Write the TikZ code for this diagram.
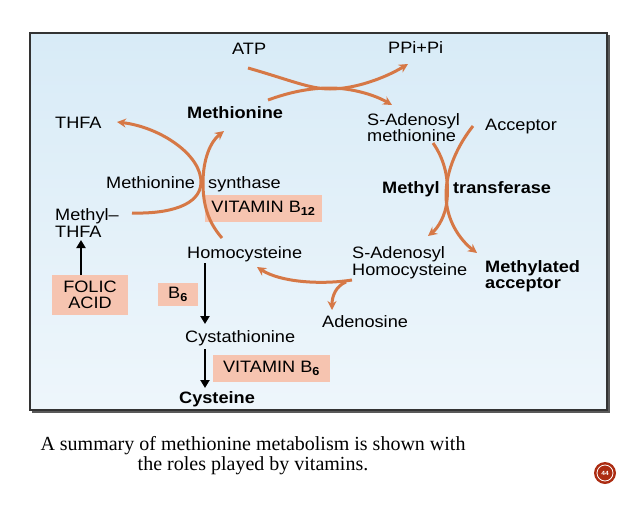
\documentclass[tikz,border=0pt]{standalone}
\usepackage{fontspec}
\setmainfont{Liberation Sans}[FakeStretch=1.1]
\newfontfamily\capfont{Liberation Serif}
\usetikzlibrary{arrows.meta}
\definecolor{arr}{RGB}{214,120,70}
\definecolor{vit}{RGB}{246,196,176}
\definecolor{bgA}{RGB}{216,235,247}
\definecolor{bgB}{RGB}{238,246,251}
\definecolor{badge}{RGB}{172,44,18}
\begin{document}
\begin{tikzpicture}[x=1pt,y=-1pt,
  lbl/.style={inner sep=0pt,anchor=base west,font=\fontsize{16.5}{19}\selectfont},
  blbl/.style={inner sep=0pt,anchor=base west,font=\fontsize{16.5}{19}\selectfont\bfseries},
  vitbox/.style={fill=vit,draw=none,inner sep=0pt,font=\fontsize{16.5}{16}\selectfont,align=center},
  oarr/.style={draw=arr,line width=3pt,-{Stealth[length=9pt,width=9pt]}},
  karr/.style={draw=black,line width=2.6pt,-{Triangle[length=8pt,width=9pt]}},
  capt/.style={inner sep=0pt,anchor=base,font=\capfont\fontsize{20}{24}\selectfont}]
\useasboundingbox (0,0) rectangle (638,504);
\fill[white] (0,0) rectangle (638,504);
% background panel
\shade[top color=bgA,bottom color=bgB] (30,33) rectangle (607,410);
\draw[line width=2pt,black!80] (30,33) rectangle (607,410);
\draw[line width=2pt,black!65] (609,35) -- (609,412) -- (32,412);

% labels
\node[lbl] (atp) at (232,54) {ATP};
\node[lbl] (ppi) at (388,53) {PPi+Pi};
\node[blbl] (met) at (187,118) {Methionine};
\node[lbl] (thfa) at (55,128) {THFA};
\node[lbl] (sam1) at (367,125) {S-Adenosyl};
\node[lbl] (sam2) at (367,141) {methionine};
\node[lbl] (acc) at (485,130) {Acceptor};
\node[lbl] (ms1) at (106,188) {Methionine};
\node[lbl] (ms2) at (208,188) {synthase};
\node[blbl] (mt1) at (382,193) {Methyl};
\node[blbl] (mt2) at (453,193) {transferase};
\node[vitbox,minimum width=117pt,minimum height=27pt] (b12) at (263.5,208.5) {VITAMIN B\textsubscript{\bfseries 12}};
\node[lbl] (mthfa1) at (55,220) {Methyl–};
\node[lbl] (mthfa2) at (55,237) {THFA};
\node[lbl] (hcy) at (187,258) {Homocysteine};
\node[vitbox,minimum width=76pt,minimum height=40pt] (folic) at (90,295) {FOLIC\\ACID};
\node[vitbox,minimum width=40pt,minimum height=23pt] (b6) at (178,294.5) {B\textsubscript{\bfseries 6}};
\node[lbl] (cysta) at (185,342) {Cystathionine};
\node[vitbox,minimum width=117pt,minimum height=27pt] (vb6) at (271.5,368.5) {VITAMIN B\textsubscript{\bfseries 6}};
\node[blbl] (cys) at (179,403) {Cysteine};
\node[lbl] (sah1) at (352,258) {S-Adenosyl};
\node[lbl] (sah2) at (352,275) {Homocysteine};
\node[blbl] (ma1) at (485,272) {Methylated};
\node[blbl] (ma2) at (485,288) {acceptor};
\node[lbl] (ado) at (322,327) {Adenosine};

% connector end points
\coordinate (folT) at (81,275);
\coordinate (mthfaB) at (81,240);
\coordinate (hcyB) at (205,263);
\coordinate (cystaT) at (205,324);
\coordinate (cystaB) at (205,349);
\coordinate (cysT) at (205,388);

% black arrows
\draw[karr] (folT) -- (mthfaB);
\draw[karr] (hcyB) -- (cystaT);
\draw[karr] (cystaB) -- (cysT);

% ATP + methionine -> SAM + PPi
\draw[oarr] (248,68) .. controls (290,80) and (310,89) .. (330,89) .. controls (355,89) and (385,78) .. (408,64);
\draw[oarr] (268,100) .. controls (290,92) and (310,88) .. (330,88) .. controls (352,88) and (375,95) .. (392,105);

% methionine synthase
\draw[oarr] (132,213) .. controls (170,214) and (200,205) .. (201,183) .. controls (202,155) and (160,127) .. (117,122);
\draw[oarr] (222,238) .. controls (208,222) and (203,205) .. (203,183) .. controls (203,160) and (210,142) .. (224,131);

% methyl transferase
\draw[oarr] (433,143) .. controls (445,160) and (449,180) .. (447,200) .. controls (446,215) and (438,228) .. (428,236);
\draw[oarr] (473,126) .. controls (458,145) and (446,170) .. (446,195) .. controls (446,220) and (460,240) .. (477,253);

% SAH -> homocysteine + adenosine
\draw[oarr] (352,280) .. controls (320,285) and (280,282) .. (257,267);
\draw[oarr] (346,282) .. controls (336,286) and (332,296) .. (332,310);

% caption
\node[capt] (cap1) at (253,450) {A summary of methionine metabolism is shown with};
\node[capt] (cap2) at (253,470) {the roles played by vitamins.};

% page badge
\node[circle,fill=badge,minimum size=22pt,inner sep=0pt] (pg) at (605,473) {};
\node[circle,draw=white,line width=0.8pt,minimum size=16pt,inner sep=0pt,text=white,font=\bfseries\fontsize{6}{6}\selectfont] (pgnum) at (pg) {44};
\end{tikzpicture}
\end{document}
